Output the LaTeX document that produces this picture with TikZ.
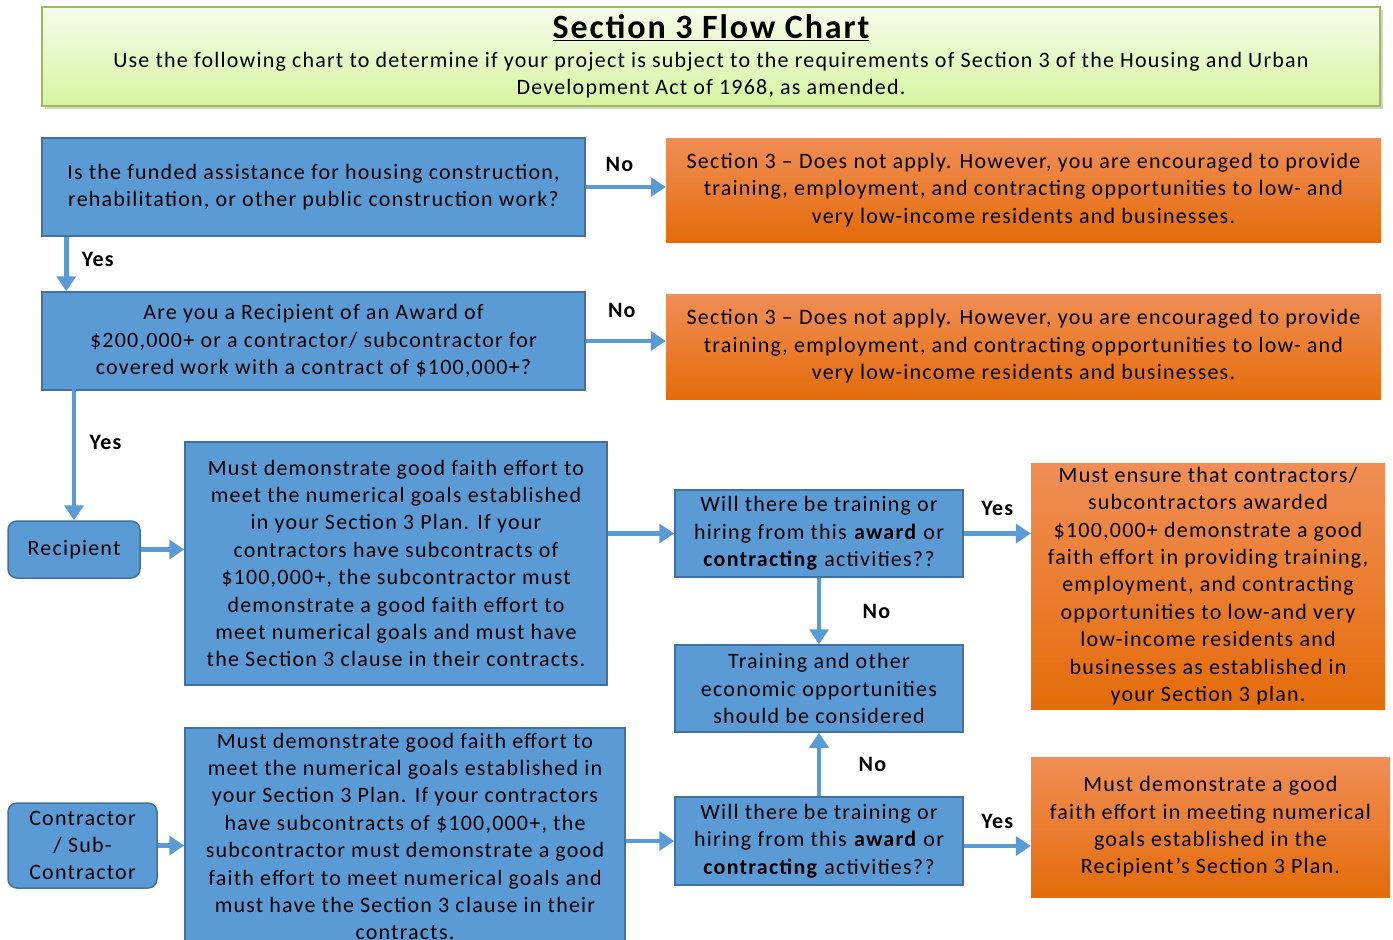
\documentclass[tikz,border=0pt]{standalone}
\usepackage{fontspec}
\setmainfont{Carlito}[LetterSpace=5.5]
\usetikzlibrary{arrows.meta,shadows}
\definecolor{boxblue}{RGB}{91,155,213}
\definecolor{edgeblue}{RGB}{65,113,156}
\definecolor{orangetop}{RGB}{240,142,86}
\definecolor{orangebot}{RGB}{228,108,10}
\definecolor{greentop}{RGB}{246,252,234}
\definecolor{greenbot}{RGB}{214,244,160}
\definecolor{greenedge}{RGB}{155,187,89}
\begin{document}
\begin{tikzpicture}[x=1pt,y=-1pt,
  qbox/.style={draw=edgeblue,line width=1.5pt,fill=boxblue,align=center,inner sep=0pt},
  sbox/.style={qbox,rounded corners=9pt},
  obox/.style={top color=orangetop,bottom color=orangebot,align=center,inner sep=0pt},
  flow/.style={draw=boxblue,line width=4.5pt,-{Triangle[length=15pt,width=19pt]}},
  lbl/.style={font=\bfseries}]
\useasboundingbox (0,0) rectangle (1393,940);
\fontsize{22}{27.4}\selectfont

% heading
\node[draw=greenedge,line width=1.5pt,top color=greentop,bottom color=greenbot,
  drop shadow={shadow xshift=3pt,shadow yshift=-3pt,fill=black!35},
  minimum width=1338pt,minimum height=99pt,align=center,inner sep=0pt] (title) at (711,56.5)
  {{\fontsize{34}{34}\selectfont\bfseries\underline{Section 3 Flow Chart}}\\[1pt]
   Use the following chart to determine if your project is subject to the requirements of Section 3 of the Housing and Urban\\
   Development Act of 1968, as amended.};

% questions and outcomes
\node[qbox,minimum width=543pt,minimum height=98pt] (q1) at (313.5,187)
  {Is the funded assistance for housing construction,\\rehabilitation, or other public construction work?};
\node[obox,minimum width=715pt,minimum height=104pt] (o1) at (1023.5,190)
  {Section 3 -- Does not apply. However, you are encouraged to provide\\training, employment, and contracting opportunities to low- and\\very low-income residents and businesses.};
\node[qbox,minimum width=543pt,minimum height=98pt] (q2) at (313.5,341)
  {Are you a Recipient of an Award of\\\$200,000+ or a contractor/ subcontractor for\\covered work with a contract of \$100,000+?};
\node[obox,minimum width=715pt,minimum height=105pt] (o2) at (1023.5,346.5)
  {Section 3 -- Does not apply. However, you are encouraged to provide\\training, employment, and contracting opportunities to low- and\\very low-income residents and businesses.};

\node[sbox,minimum width=132pt,minimum height=57pt] (rec) at (74,549.5) {Recipient};
\node[qbox,minimum width=422pt,minimum height=243pt] (r) at (396,563.5)
  {Must demonstrate good faith effort to\\meet the numerical goals established\\in your Section 3 Plan. If your\\contractors have subcontracts of\\\$100,000+, the subcontractor must\\demonstrate a good faith effort to\\meet numerical goals and must have\\the Section 3 clause in their contracts.};
\node[qbox,minimum width=288pt,minimum height=87pt] (q3) at (819,533.5)
  {Will there be training or\\hiring from this \textbf{award} or\\\textbf{contracting} activities??};
\node[obox,minimum width=354pt,minimum height=246pt] (o3) at (1208,586)
  {Must ensure that contractors/\\subcontractors awarded\\\$100,000+ demonstrate a good\\faith effort in providing training,\\employment, and contracting\\opportunities to low-and very\\low-income residents and\\businesses as established in\\your Section 3 plan.};
\node[qbox,minimum width=288pt,minimum height=87pt] (t) at (819,688.5)
  {Training and other\\economic opportunities\\should be considered};

\node[sbox,minimum width=149pt,minimum height=85pt] (con) at (82.5,845.5) {Contractor\\/ Sub-\\Contractor};
\node[qbox,minimum width=440pt,minimum height=217pt] (c) at (405,836.5)
  {Must demonstrate good faith effort to\\meet the numerical goals established in\\your Section 3 Plan. If your contractors\\have subcontracts of \$100,000+, the\\subcontractor must demonstrate a good\\faith effort to meet numerical goals and\\must have the Section 3 clause in their\\contracts.};
\node[qbox,minimum width=288pt,minimum height=88pt] (q4) at (819,841)
  {Will there be training or\\hiring from this \textbf{award} or\\\textbf{contracting} activities??};
\node[obox,minimum width=359pt,minimum height=140pt] (o4) at (1210.5,827)
  {Must demonstrate a good\\faith effort in meeting numerical\\goals established in the\\Recipient's Section 3 Plan.};

% connectors
\draw[flow] (q1.east) -- (q1.east -| o1.west) node[lbl,pos=0.42,above=6pt] (n1) {No};
\draw[flow] ([xshift=25pt]q1.south west) -- ([xshift=25pt]q2.north west) node[lbl,pos=0.42,right=6pt] (y1) {Yes};
\draw[flow] (q2.east) -- (q2.east -| o2.west) node[lbl,pos=0.45,above=14pt] (n2) {No};
\draw[flow] ([yshift=5pt]q2.south -| rec) -- (rec.north) node[lbl,pos=0.42,right=6pt] (y2) {Yes};
\draw[flow] (rec.east) -- (rec.east -| r.west);
\draw[flow] (r.east |- q3) -- (q3.west);
\draw[flow] (q3.east) -- (q3.east -| o3.west) node[lbl,midway,above=8pt] (y3) {Yes};
\draw[flow] (q3.south) -- (t.north) node[lbl,midway,right=34pt] (n3) {No};
\draw[flow] (con.east) -- (con.east -| c.west);
\draw[flow] (c.east |- q4) -- (q4.west);
\draw[flow] (q4.north) -- (t.south) node[lbl,midway,right=30pt] (n4) {No};
\draw[flow] ([yshift=-5pt]q4.east) -- ([yshift=-5pt]q4.east -| o4.west) node[lbl,midway,above=8pt] (y4) {Yes};
\end{tikzpicture}
\end{document}
